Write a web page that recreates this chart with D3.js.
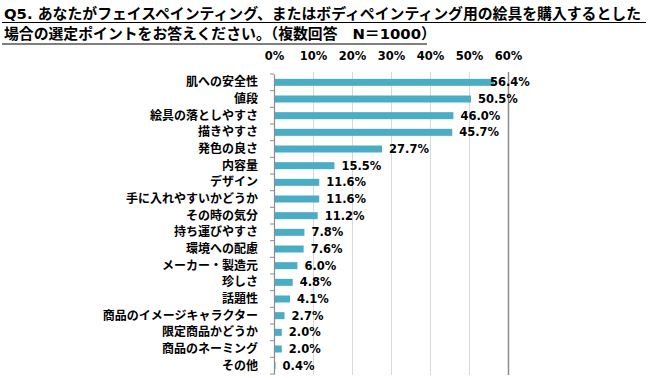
<!DOCTYPE html>
<html><head><meta charset="utf-8">
<script src="https://cdn.jsdelivr.net/npm/d3@7"></script>
<style>
body{margin:0;background:#fff;}
svg{display:block;}
text{font-family:"DejaVu Sans","Noto Sans CJK JP",sans-serif;font-weight:bold;fill:#000;}
</style></head>
<body>
<svg id="c" width="650" height="378"></svg>
<script>
const titleLines = ["Q5. あなたがフェイスペインティング、またはボディペインティング用の絵具を購入するとした", "場合の選定ポイントをお答えください。（複数回答　N＝1000）"];
const categories = ["肌への安全性","値段","絵具の落としやすさ","描きやすさ","発色の良さ","内容量","デザイン","手に入れやすいかどうか","その時の気分","持ち運びやすさ","環境への配慮","メーカー・製造元","珍しさ","話題性","商品のイメージキャラクター","限定商品かどうか","商品のネーミング","その他"];
const values = [56.4,50.5,46.0,45.7,27.7,15.5,11.6,11.6,11.2,7.8,7.6,6.0,4.8,4.1,2.7,2.0,2.0,0.4];
const ticks = [0,10,20,30,40,50,60];

const svg = d3.select("#c");
const x = d3.scaleLinear().domain([0,60]).range([274,508]);
const y = d3.scaleBand().domain(categories).range([74,374]).paddingInner(0.58).paddingOuter(0.29);

// title
svg.append("text").attr("x",4).attr("y",19).style("font-size","14.85px").text(titleLines[0]);
svg.append("text").attr("x",4).attr("y",39).style("font-size","14.85px").text(titleLines[1]);
svg.append("line").attr("x1",2).attr("x2",646).attr("y1",22.5).attr("y2",22.5).attr("stroke","#000").attr("stroke-width",1);
svg.append("line").attr("x1",2).attr("x2",427).attr("y1",44).attr("y2",44).attr("stroke","#000").attr("stroke-width",1);

// gridlines
svg.append("g").selectAll("line").data(ticks.slice(1)).join("line")
  .attr("x1",d=>Math.round(x(d))+0.5).attr("x2",d=>Math.round(x(d))+0.5)
  .attr("y1",72).attr("y2",375)
  .attr("stroke",d=>d===60?"#8c8c8c":"#d9d9d9").attr("stroke-width",d=>d===60?1.5:1);

// x axis on top
const xAxis = d3.axisTop(x).tickValues(ticks).tickFormat(d=>d+"%").tickSize(0).tickPadding(0);
const gx = svg.append("g").attr("transform","translate(0,60)").call(xAxis);
gx.select(".domain").remove();
gx.selectAll("text").style("font-size","11.5px").style("font-family","DejaVu Sans").style("font-weight","bold").attr("fill","#000").attr("dy","0");

// bars
svg.append("g").selectAll("rect").data(values).join("rect")
  .attr("x",x(0)).attr("y",(d,i)=>y(categories[i]))
  .attr("width",d=>x(d)-x(0)).attr("height",y.bandwidth())
  .attr("fill","#4bacc6");

// y axis
const yAxis = d3.axisLeft(y).tickSize(0).tickPadding(16);
const gy = svg.append("g").attr("transform",`translate(${x(0)},0)`).call(yAxis);
gy.select(".domain").attr("stroke","#8c8c8c").attr("stroke-width",1.2);
gy.selectAll("text").style("font-size","12px").style("font-family","Noto Sans CJK JP").style("font-weight","bold").attr("fill","#000");
// boundary tick marks
const bounds = d3.range(categories.length+1).map(i=>y.range()[0]+i*(y.range()[1]-y.range()[0])/categories.length);
svg.append("g").selectAll("line").data(bounds).join("line")
  .attr("x1",x(0)-4).attr("x2",x(0)).attr("y1",d=>d).attr("y2",d=>d)
  .attr("stroke","#8c8c8c").attr("stroke-width",1);

// value labels
svg.append("g").selectAll("text").data(values).join("text")
  .attr("x",d=>Math.min(x(d)+7, x(60)-18))
  .attr("y",(d,i)=>y(categories[i])+y.bandwidth()/2)
  .attr("dy","0.35em")
  .style("font-size","11.5px")
  .text(d=>d.toFixed(1)+"%");
</script>
</body></html>
